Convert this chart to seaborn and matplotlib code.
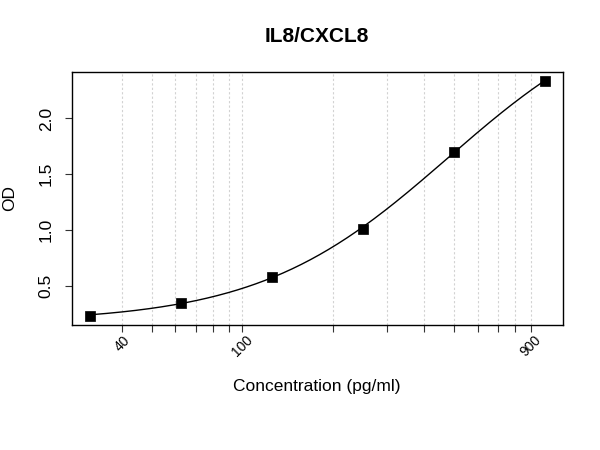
import numpy as np
import pandas as pd
import matplotlib
matplotlib.use("Agg")
import matplotlib.pyplot as plt
import seaborn as sns
from matplotlib.ticker import NullLocator, FixedLocator
from matplotlib.transforms import ScaledTranslation

# ---- data ----
concentration = [31.25, 62.5, 125, 250, 500, 1000]
od = [0.230, 0.344, 0.581, 1.009, 1.700, 2.336]
grid_ticks = [40, 50, 60, 70, 80, 90, 100, 200, 300, 400, 500, 600, 700, 800, 900]
labelled_ticks = {40: "40", 100: "100", 900: "900"}
y_ticks = [0.5, 1.0, 1.5, 2.0]
y_tick_labels = ["0.5", "1.0", "1.5", "2.0"]
title = "IL8/CXCL8"
x_label = "Concentration (pg/ml)"
y_label = "OD"

sns.set_theme(style="white")
plt.rcParams["font.family"] = ["Liberation Sans", "DejaVu Sans"]
for k in ["text.color", "axes.labelcolor", "xtick.color", "ytick.color"]:
    plt.rcParams[k] = "black"

df = pd.DataFrame({"conc": concentration, "od": od})


# ---- four-parameter logistic standard-curve fit (Levenberg-Marquardt) ----
def f4pl(p, x):
    a, b, c, d = p
    return d + (a - d) / (1.0 + (x / c) ** b)


xd = df["conc"].to_numpy(float)
yd = df["od"].to_numpy(float)
p = np.array([yd.min() * 0.8, 1.5, np.median(xd) * 2, yd.max() * 1.5])
lam = 1e-2
for _ in range(2000):
    r = yd - f4pl(p, xd)
    J = np.empty((xd.size, 4))
    for i in range(4):
        h = 1e-6 * max(abs(p[i]), 1e-3)
        pp = p.copy()
        pp[i] += h
        J[:, i] = (f4pl(pp, xd) - f4pl(p, xd)) / h
    A = J.T @ J
    g = J.T @ r
    step = np.linalg.solve(A + lam * np.diag(np.diag(A)), g)
    pn = p + step
    if pn[2] > 0 and np.all(np.isfinite(pn)) and np.sum((yd - f4pl(pn, xd)) ** 2) < np.sum(r ** 2):
        p = pn
        lam *= 0.5
    else:
        lam *= 4
    if np.linalg.norm(step) < 1e-10:
        break

xs = np.logspace(np.log10(xd.min()), np.log10(xd.max()), 300)
fit = pd.DataFrame({"conc": xs, "od": f4pl(p, xs)})

fig = plt.figure(figsize=(6, 4.5), dpi=100)
ax = fig.add_axes([71.7 / 600, 1 - 325 / 450, (562.7 - 71.7) / 600, (325 - 71.7) / 450])

for t in grid_ticks:
    ax.axvline(t, color="#d2d2d2", ls=(0, (2, 2)), lw=0.8, zorder=0)

sns.lineplot(data=fit, x="conc", y="od", ax=ax, color="black", lw=1.0, zorder=2)
sns.scatterplot(data=df, x="conc", y="od", ax=ax, marker="s", s=58,
                color="black", edgecolor="black", linewidth=0.5, zorder=3)

ax.set_xscale("log")
ax.set_xlim(10 ** 1.4345, 10 ** 3.0602)
ax.set_ylim(0.146, 2.42)

ax.xaxis.set_major_locator(FixedLocator(grid_ticks))
ax.xaxis.set_minor_locator(NullLocator())
ax.set_xticklabels([labelled_ticks.get(t, "") for t in grid_ticks],
                   rotation=45, fontsize=10, ha="center")
shift = ScaledTranslation(-5 / 100, 0, fig.dpi_scale_trans)
for lab in ax.get_xticklabels():
    lab.set_transform(lab.get_transform() + shift)

ax.set_yticks(y_ticks)
ax.set_yticklabels(y_tick_labels, rotation=90, va="center", fontsize=12.5)

ax.tick_params(axis="both", direction="out", length=5, width=0.8,
               color="#333333", bottom=True, left=True)
ax.tick_params(axis="x", pad=1)
ax.tick_params(axis="y", pad=8)

ax.set_xlabel("")
ax.set_ylabel("")
for s in ax.spines.values():
    s.set_visible(True)
    s.set_color("black")
    s.set_linewidth(1.0)
ax.grid(False)

fig.text(317.2 / 600, 1 - 36 / 450, title, ha="center", va="center",
         fontsize=15, fontweight="bold")
fig.text(317 / 600, 1 - 386 / 450, x_label, ha="center", va="center", fontsize=12.5)
fig.text(10 / 600, 1 - 198.3 / 450, y_label, ha="center", va="center",
         rotation=90, fontsize=12.5)

fig.savefig("out.png", dpi=100, facecolor="white")
